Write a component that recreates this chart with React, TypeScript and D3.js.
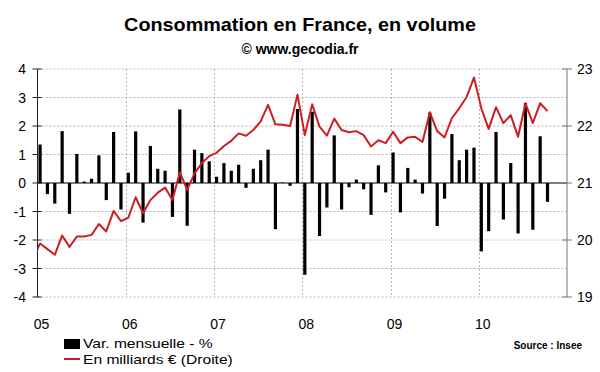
import React, { useRef, useEffect } from 'react';
import * as d3 from 'd3';

// Variation mensuelle (%) de janv. 2005 à oct. 2010
const varMensuelle = [
  1.35, -0.39, -0.72, 1.82, -1.08, 1.02, 0.05, 0.15, 0.97, -0.6, 1.79, -0.93,
  0.36, 1.81, -1.39, 1.3, 0.5, 0.43, -1.19, 2.58, -1.5, 1.17, 1.05, 0.76,
  0.22, 0.7, 0.43, 0.64, -0.17, 0.5, 0.8, 1.17, -1.62, 0.02, -0.1, 2.6,
  -3.22, 2.5, -1.86, -0.86, 1.67, -0.93, -0.15, 0.12, -0.22, -1.12, 0.62, -0.33,
  1.07, -1.03, 0.53, 0.12, -0.37, 2.47, -1.51, -0.55, 1.72, 0.8, 1.17, 1.24,
  -2.4, -1.69, 1.79, -1.28, 0.7, -1.77, 2.81, -1.64, 1.64, -0.66,
];

// Consommation en milliards € (axe droit), de déc. 2004 à oct. 2010
const milliards = [
  19.67,
  19.94, 19.84, 19.74, 20.08, 19.88, 20.06, 20.06, 20.09, 20.28, 20.15, 20.51, 20.33,
  20.39, 20.75, 20.47, 20.7, 20.83, 20.92, 20.7, 21.19, 20.88, 21.17, 21.35, 21.47,
  21.53, 21.65, 21.74, 21.87, 21.83, 21.93, 22.08, 22.37, 22.03, 22.02, 22.0, 22.55,
  21.84, 22.38, 21.99, 21.83, 22.13, 21.93, 21.89, 21.91, 21.84, 21.64, 21.75, 21.7,
  21.9, 21.7, 21.8, 21.81, 21.72, 22.24, 21.91, 21.8, 22.14, 22.31, 22.51, 22.85,
  22.31, 21.95, 22.33, 22.05, 22.19, 21.81, 22.4, 22.05, 22.4, 22.26,
];

const annees = ['05', '06', '07', '08', '09', '10'];
const ticksGauche = [-4, -3, -2, -1, 0, 1, 2, 3, 4];
const ticksDroite = [19, 20, 21, 22, 23];

const FONT = '"Liberation Sans", Arial, sans-serif';

export default function App() {
  const svgRef = useRef<SVGSVGElement>(null);
  const width = 600;
  const height = 372;

  useEffect(() => {
    const svg = d3.select(svgRef.current);
    svg.selectAll('*').remove();

    const x = d3.scaleLinear().domain([0, 72]).range([37.5, 567]);
    const yL = d3.scaleLinear().domain([-4, 4]).range([297, 69]);
    const yR = d3.scaleLinear().domain([19, 23]).range([297, 69]);
    const décalage = 0.35; // position du point dans le mois

    svg.append('rect').attr('width', width).attr('height', height).attr('fill', '#fff');

    // Titre
    svg.append('text')
      .attr('transform', 'translate(300,31) scale(1.1,1)')
      .attr('text-anchor', 'middle')
      .style('font', `bold 18px ${FONT}`)
      .text('Consommation en France, en volume');
    svg.append('text')
      .attr('x', 300).attr('y', 54)
      .attr('text-anchor', 'middle')
      .style('font', `bold 14px ${FONT}`)
      .text('© www.gecodia.fr');

    const clipId = 'zone-trace';
    svg.append('clipPath').attr('id', clipId)
      .append('rect')
      .attr('x', x(0)).attr('y', yL(4))
      .attr('width', x(72) - x(0)).attr('height', yL(-4) - yL(4));

    // Grille horizontale
    svg.append('g')
      .selectAll('line')
      .data(ticksGauche.filter(d => d !== 0))
      .enter()
      .append('line')
      .attr('x1', x(0)).attr('x2', x(72))
      .attr('y1', d => yL(d)).attr('y2', d => yL(d))
      .attr('stroke', '#b5b5b5')
      .attr('stroke-dasharray', '2,2');

    // Grille verticale (débuts d'année)
    svg.append('g')
      .selectAll('line')
      .data(annees.slice(1))
      .enter()
      .append('line')
      .attr('x1', (_, i) => Math.round(x((i + 1) * 12)) + 0.5)
      .attr('x2', (_, i) => Math.round(x((i + 1) * 12)) + 0.5)
      .attr('y1', yL(4)).attr('y2', yL(-4))
      .attr('stroke', '#b5b5b5')
      .attr('stroke-dasharray', '2,2');

    // Barres
    svg.append('g')
      .selectAll('rect')
      .data(varMensuelle)
      .enter()
      .append('rect')
      .attr('x', (_, i) => x(i + décalage) - 1.6)
      .attr('width', 3.2)
      .attr('y', d => yL(Math.max(0, d)))
      .attr('height', d => Math.abs(yL(d) - yL(0)))
      .attr('fill', '#000');

    // Ligne zéro
    svg.append('line')
      .attr('x1', x(0)).attr('x2', x(72))
      .attr('y1', yL(0)).attr('y2', yL(0))
      .attr('stroke', '#000').attr('stroke-width', 1.2);

    // Courbe
    const ligne = d3.line<number>()
      .x((_, i) => x(i - 1 + décalage))
      .y(d => yR(d));
    svg.append('path')
      .attr('d', ligne(milliards))
      .attr('clip-path', `url(#${clipId})`)
      .attr('fill', 'none')
      .attr('stroke', '#cc1f24')
      .attr('stroke-width', 2)
      .attr('stroke-linejoin', 'round');

    // Axe gauche
    const gauche = svg.append('g');
    gauche.append('line')
      .attr('x1', x(0)).attr('x2', x(0))
      .attr('y1', yL(4)).attr('y2', yL(-4))
      .attr('stroke', '#222');
    gauche.selectAll('line.tick')
      .data(ticksGauche)
      .enter()
      .append('line')
      .attr('class', 'tick')
      .attr('x1', x(0) - 5).attr('x2', x(0) + 4)
      .attr('y1', d => yL(d)).attr('y2', d => yL(d))
      .attr('stroke', '#222');
    gauche.selectAll('text')
      .data(ticksGauche)
      .enter()
      .append('text')
      .attr('x', 26)
      .attr('y', d => yL(d) + 5)
      .attr('text-anchor', 'end')
      .style('font', `14px ${FONT}`)
      .text(d => d);

    // Axe droit
    const droite = svg.append('g');
    droite.append('line')
      .attr('x1', x(72)).attr('x2', x(72))
      .attr('y1', yR(23)).attr('y2', yR(19))
      .attr('stroke', '#777');
    droite.selectAll('line.tick')
      .data(ticksDroite)
      .enter()
      .append('line')
      .attr('class', 'tick')
      .attr('x1', x(72) - 5).attr('x2', x(72) + 5)
      .attr('y1', d => yR(d)).attr('y2', d => yR(d))
      .attr('stroke', '#777');
    droite.selectAll('text')
      .data(ticksDroite)
      .enter()
      .append('text')
      .attr('x', 577)
      .attr('y', d => yR(d) + 5)
      .style('font', `14px ${FONT}`)
      .text(d => d);

    // Années
    svg.append('g')
      .selectAll('text')
      .data(annees)
      .enter()
      .append('text')
      .attr('x', (_, i) => x(i * 12 + 0.55))
      .attr('y', 329)
      .attr('text-anchor', 'middle')
      .style('font', `14px ${FONT}`)
      .text(d => d);

    // Légende
    const leg = svg.append('g');
    leg.append('rect')
      .attr('x', 64).attr('y', 339).attr('width', 16).attr('height', 10)
      .attr('fill', '#000');
    leg.append('text')
      .attr('transform', 'translate(83,348) scale(1.2,1)')
      .style('font', `13px ${FONT}`)
      .text('Var. mensuelle - %');
    leg.append('line')
      .attr('x1', 64).attr('x2', 80)
      .attr('y1', 359).attr('y2', 359)
      .attr('stroke', '#cc1f24').attr('stroke-width', 2);
    leg.append('text')
      .attr('transform', 'translate(83,364) scale(1.2,1)')
      .style('font', `13px ${FONT}`)
      .text('En milliards € (Droite)');

    svg.append('text')
      .attr('x', 582).attr('y', 349)
      .attr('text-anchor', 'end')
      .style('font', `bold 10px ${FONT}`)
      .text('Source : Insee');
  }, []);

  return (
    <svg
      ref={svgRef}
      width={width}
      height={height}
      style={{ position: 'absolute', left: 0, top: 0, display: 'block' }}
    />
  );
}
